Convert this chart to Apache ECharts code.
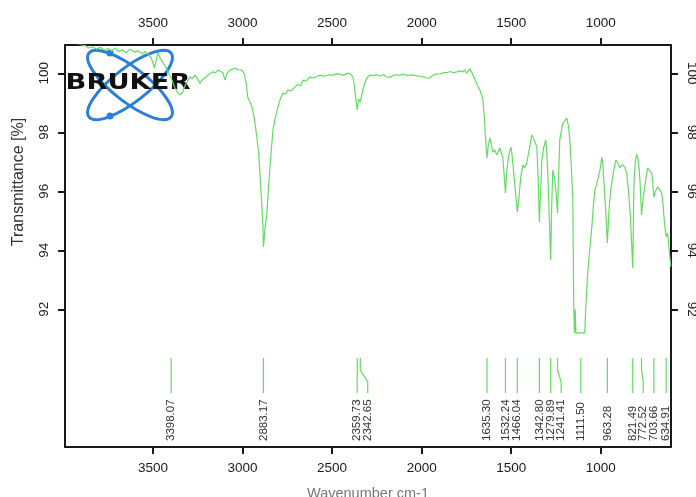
<!DOCTYPE html>
<html>
<head>
<meta charset="utf-8">
<script src="https://cdn.jsdelivr.net/npm/echarts@6/dist/echarts.min.js"></script>
<style>
  html, body { margin: 0; padding: 0; background: #fff; }
  #chart { width: 696px; height: 497px; }
</style>
</head>
<body>
<div id="chart"></div>
<script>
// spectrum (wavenumber cm-1, transmittance %)
const wavenumbers = [
  3991, 3960, 3935, 3905, 3879, 3860, 3840, 3815, 3796, 3770, 3751, 3730, 3712, 3690, 3673, 3650,
  3628, 3605, 3584, 3560, 3544, 3525, 3512, 3500, 3492, 3482, 3472, 3460, 3450, 3438, 3427, 3415,
  3405, 3395, 3385, 3377, 3365, 3349, 3335, 3321, 3305, 3293, 3280, 3265, 3250, 3238, 3225, 3210,
  3190, 3165, 3150, 3137, 3122, 3109, 3098, 3088, 3070, 3055, 3042, 3025, 3003, 2994, 2986, 2978,
  2970, 2960, 2947, 2935, 2920, 2910, 2903, 2895, 2886, 2883.17, 2875, 2864, 2855, 2847, 2838, 2830,
  2815, 2802, 2788, 2774, 2760, 2747, 2730, 2707, 2690, 2675, 2663, 2645, 2624, 2600, 2585, 2568,
  2545, 2520, 2495, 2475, 2456, 2435, 2415, 2401, 2390, 2384, 2378, 2373, 2365, 2359.73, 2352, 2346,
  2342.65, 2335, 2325, 2317, 2305, 2289, 2270, 2252, 2233, 2215, 2195, 2177, 2160, 2140, 2122, 2100,
  2080, 2060, 2049, 2030, 2010, 1993, 1975, 1954, 1940, 1925, 1915, 1900, 1880, 1859, 1840, 1820,
  1804, 1790, 1780, 1770, 1760, 1750, 1740, 1731, 1722, 1714, 1700, 1686, 1675, 1665, 1658, 1650,
  1645, 1635.30, 1628, 1619, 1610, 1603, 1592, 1580, 1572, 1564, 1555, 1547, 1540, 1532.24, 1525, 1515,
  1502, 1497, 1491, 1480, 1466.04, 1458, 1452, 1445, 1435, 1424, 1413, 1400, 1385, 1376, 1368, 1357,
  1350, 1342.80, 1335, 1329, 1318, 1307, 1300, 1296, 1288, 1279.89, 1274, 1268, 1262, 1257, 1250, 1241.41,
  1235, 1229, 1220, 1212, 1200, 1190, 1180, 1173, 1165, 1156, 1151, 1147, 1143, 1139, 1111.50, 1089,
  1084, 1073, 1062, 1050, 1040, 1033, 1025, 1017, 1005, 994, 988, 983, 972, 963.28, 955, 947,
  939, 928, 916, 905, 894, 880, 866, 855, 845, 835, 821.49, 815, 808, 800, 792, 785,
  778, 772.52, 765, 755, 745, 738, 728, 716, 710, 703.66, 695, 682, 670, 660, 653, 649,
  642, 634.91, 627, 618, 609
];
const transmittance = [
  101.10, 101.05, 101.02, 100.98, 100.94, 100.86, 100.90, 100.82, 100.88, 100.78, 100.84, 100.76, 100.86, 100.74, 100.80, 100.70,
  100.82, 100.72, 100.76, 100.66, 100.74, 100.62, 100.55, 100.35, 100.18, 100.45, 100.70, 100.52, 100.42, 100.30, 100.18, 100.05,
  99.92, 99.80, 99.62, 99.50, 99.38, 99.26, 99.35, 99.58, 99.76, 99.88, 99.82, 99.94, 99.80, 99.66, 99.78, 99.84,
  99.96, 100.05, 100.02, 100.11, 100.06, 100.01, 99.77, 99.98, 100.11, 100.14, 100.18, 100.12, 100.11, 100.02, 99.88, 99.60,
  99.16, 99.05, 98.86, 98.50, 97.84, 97.30, 96.62, 95.80, 94.79, 94.11, 94.70, 95.26, 96.10, 96.82, 97.50, 98.08,
  98.55, 98.86, 99.15, 99.33, 99.30, 99.43, 99.40, 99.54, 99.62, 99.58, 99.77, 99.74, 99.87, 99.84, 99.90, 99.94,
  99.90, 99.95, 99.94, 99.98, 99.97, 99.93, 100.00, 100.00, 99.96, 99.88, 99.70, 99.43, 99.00, 98.76, 99.12, 99.08,
  99.03, 99.25, 99.52, 99.67, 99.85, 99.94, 99.92, 99.96, 99.91, 99.95, 99.88, 99.87, 99.92, 99.95, 99.94, 99.97,
  99.92, 99.95, 99.94, 99.92, 99.90, 99.88, 99.85, 99.84, 99.92, 99.97, 100.00, 99.98, 100.02, 100.02, 100.06, 100.02,
  100.05, 100.08, 100.02, 100.05, 100.12, 100.00, 100.08, 100.15, 100.05, 99.94, 99.75, 99.55, 99.43, 99.25, 99.09, 98.50,
  97.95, 97.13, 97.55, 97.81, 97.55, 97.33, 97.40, 97.23, 97.35, 97.47, 97.30, 97.16, 96.60, 95.94, 96.65, 97.20,
  97.50, 97.30, 96.96, 96.20, 95.30, 95.70, 96.15, 96.55, 96.89, 96.80, 96.96, 97.40, 97.91, 97.80, 97.74, 97.50,
  96.50, 94.96, 96.10, 97.06, 97.50, 97.74, 97.20, 96.62, 95.20, 93.67, 95.50, 96.72, 96.55, 96.38, 96.00, 95.26,
  96.60, 97.74, 98.05, 98.31, 98.40, 98.48, 98.20, 97.74, 96.90, 95.71, 92.08, 91.20, 92.00, 91.20, 91.20, 91.20,
  92.08, 93.23, 94.00, 94.79, 95.60, 96.04, 96.20, 96.15, 96.70, 97.16, 96.90, 96.38, 95.26, 94.25, 95.26, 95.90,
  96.28, 96.70, 97.06, 96.95, 96.79, 96.90, 96.82, 96.60, 96.00, 95.20, 93.40, 96.20, 96.95, 97.25, 97.10, 96.70,
  96.00, 95.20, 95.70, 96.15, 96.55, 96.79, 96.70, 96.62, 96.30, 95.80, 96.00, 96.15, 96.05, 95.94, 95.60, 95.26,
  94.80, 94.45, 94.58, 94.00, 93.44
];

// picked peaks
const peakWavenumbers = [
  3398.07, 2883.17, 2359.73, 2342.65, 1635.30, 1532.24, 1466.04, 1342.80,
  1279.89, 1241.41, 1111.50, 963.28, 821.49, 772.52, 703.66, 634.91
];

const xTicks = [3500, 3000, 2500, 2000, 1500, 1000];
const yTicks = [92, 94, 96, 98, 100];
const xRange = [608, 3991];
const yRange = [87.33, 100.96];

const GREEN = '#62dc62';
const INK = '#1a1a1a';
const FONT = 'Liberation Sans, Arial, sans-serif';
const LOGO_BLUE = '#2c7fd9';

const chart = echarts.init(document.getElementById('chart'), null, { renderer: 'canvas' });

function labelXs(api) {
  // peaks sorted left to right on screen; push labels apart so they don't overlap
  const gap = 10.5;
  const out = [];
  peakWavenumbers.forEach((w, i) => {
    const px = api.coord([w, yRange[0]])[0];
    out.push(i === 0 ? px : Math.max(px, out[i - 1] + gap));
  });
  return out;
}

function renderPeak(params, api) {
  const i = params.dataIndex;
  const cs = params.coordSys;
  const bottom = cs.y + cs.height;
  const px = api.coord([api.value(0), yRange[0]])[0];
  const lx = labelXs(api)[i];
  const top = bottom - 89;
  const lineEnd = bottom - 54;
  return {
    type: 'group',
    children: [
      {
        type: 'polyline',
        shape: { points: [[px, top], [px, top + 12], [lx, top + 24], [lx, lineEnd]] },
        style: { stroke: GREEN, lineWidth: 1.2, fill: null }
      },
      {
        type: 'text',
        x: lx,
        y: bottom - 6,
        rotation: Math.PI / 2,
        style: {
          text: api.value(0).toFixed(2),
          fontSize: 11.5,
          fontFamily: FONT,
          fill: '#333',
          align: 'left',
          verticalAlign: 'middle'
        }
      }
    ]
  };
}

const axisCommon = {
  axisLine: { lineStyle: { color: INK, width: 2 } },
  axisTick: { show: true, inside: false, length: 7, lineStyle: { color: INK, width: 2 } },
  splitLine: { show: false }
};

function xAxisAt(position) {
  return {
    type: 'value',
    position,
    inverse: true,
    min: xRange[0],
    max: xRange[1],
    ...axisCommon,
    axisTick: { ...axisCommon.axisTick, customValues: xTicks },
    axisLabel: {
      customValues: xTicks,
      formatter: v => String(v),
      color: INK,
      fontSize: 13.5,
      fontFamily: FONT,
      margin: 14.5
    }
  };
}

function yAxisAt(position) {
  return {
    type: 'value',
    position,
    min: yRange[0],
    max: yRange[1],
    ...axisCommon,
    axisTick: { ...axisCommon.axisTick, customValues: yTicks },
    axisLabel: {
      customValues: yTicks,
      formatter: v => String(v),
      rotate: position === 'left' ? 90 : -90,
      color: INK,
      fontSize: 13.5,
      fontFamily: FONT,
      margin: 14
    }
  };
}

const option = {
  animation: false,
  backgroundColor: '#fff',
  grid: { left: 65, right: 25, top: 45, bottom: 50, containLabel: false, outerBoundsMode: 'none' },
  xAxis: [xAxisAt('bottom'), xAxisAt('top')],
  yAxis: [yAxisAt('left'), yAxisAt('right')],
  series: [
    {
      type: 'line',
      xAxisIndex: 0,
      yAxisIndex: 0,
      data: wavenumbers.map((w, i) => [w, transmittance[i]]),
      showSymbol: false,
      clip: true,
      lineStyle: { color: GREEN, width: 1.2 },
      silent: true,
      z: 3
    },
    {
      type: 'custom',
      xAxisIndex: 0,
      yAxisIndex: 0,
      data: peakWavenumbers.map(w => [w]),
      renderItem: renderPeak,
      silent: true,
      z: 4
    }
  ],
  graphic: [
    {
      type: 'text',
      x: 19,
      y: 182,
      rotation: Math.PI / 2,
      style: {
        text: 'Transmittance [%]',
        fontSize: 16,
        fontFamily: FONT,
        fill: '#333',
        align: 'center',
        verticalAlign: 'middle'
      }
    },
    {
      type: 'text',
      x: 368,
      y: 494,
      style: {
        text: 'Wavenumber cm-1',
        fontSize: 14.5,
        fontFamily: FONT,
        fill: '#777',
        align: 'center',
        verticalAlign: 'middle'
      }
    },
    // Bruker logo
    {
      type: 'group',
      z: 10,
      children: [
        {
          type: 'ellipse',
          x: 130, y: 85, rotation: 0.66,
          shape: { cx: 0, cy: 0, rx: 52, ry: 17 },
          style: { fill: null, stroke: LOGO_BLUE, lineWidth: 3 }
        },
        {
          type: 'ellipse',
          x: 130, y: 85, rotation: -0.66,
          shape: { cx: 0, cy: 0, rx: 52, ry: 17 },
          style: { fill: null, stroke: LOGO_BLUE, lineWidth: 3 }
        },
        { type: 'circle', shape: { cx: 110, cy: 53, r: 3.5 }, style: { fill: LOGO_BLUE } },
        { type: 'circle', shape: { cx: 110, cy: 116, r: 3.5 }, style: { fill: LOGO_BLUE } },
        {
          type: 'text',
          x: 128, y: 84, scaleX: 1.3,
          style: {
            text: 'BRUKER',
            fontSize: 21,
            fontWeight: 'bold',
            fontFamily: 'DejaVu Sans, sans-serif',
            fill: '#111',
            align: 'center',
            verticalAlign: 'middle'
          }
        }
      ]
    }
  ]
};

chart.setOption(option);
window.addEventListener('resize', () => chart.resize());
</script>
</body>
</html>
